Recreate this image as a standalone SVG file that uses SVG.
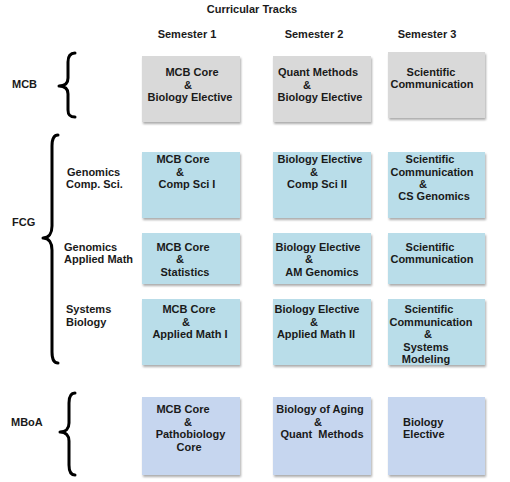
<svg xmlns="http://www.w3.org/2000/svg" width="510" height="482" viewBox="0 0 510 482">
<defs>
<filter id="blur" x="-10%" y="-10%" width="120%" height="120%"><feGaussianBlur stdDeviation="0.8"/></filter>
</defs>
<style>
text{font-family:"Liberation Sans",Arial,sans-serif;font-weight:bold;font-size:11px;fill:#1a1a1a;text-anchor:middle}
.l{text-anchor:start}
.g{fill:#d9d9d9}
.b{fill:#b9dde9}
.p{fill:#c6d6ef}
.sh{fill:#8a8a8a;opacity:0.7;filter:url(#blur)}
.br{fill:none;stroke:#000;stroke-width:3;stroke-linecap:round;stroke-linejoin:round}
</style>
<rect width="510" height="482" fill="#fff"/>
<text x="252" y="13">Curricular Tracks</text>
<text x="187" y="38">Semester 1</text>
<text x="314" y="38">Semester 2</text>
<text x="427" y="38">Semester 3</text>

<g id="labels">
<text class="l" x="12" y="88">MCB</text>
<text class="l" x="12" y="226">FCG</text>
<text class="l" x="11" y="426">MBoA</text>
<text class="l" x="67" y="176">Genomics</text>
<text class="l" x="66" y="188">Comp. Sci.</text>
<text class="l" x="64" y="251">Genomics</text>
<text class="l" x="64" y="263">Applied Math</text>
<text class="l" x="66" y="313">Systems</text>
<text class="l" x="66" y="326">Biology</text>
</g>

<g id="braces">
<path class="br" d="M75,53 C70,53 68,56 68,62 L68,78 C68,83 65,86 59,86 C65,86 68,89 68,94 L68,110 C68,115 70,117 75,117"/>
<path class="br" d="M58,135 C54,135 52,139 52,146 L52,226 C52,233 49,238 43,238 C49,238 52,243 52,250 L52,352 C52,359 54,363 58,363"/>
<path class="br" d="M75,393 C71,393 69,397 69,403 L69,423 C69,428 66,432 60,432 C66,432 69,436 69,441 L69,465 C69,471 71,475 75,475"/>
</g>

<g id="mcb-s1"><rect class="sh" x="143" y="58" width="98" height="66"/><rect class="g" x="142" y="56" width="98" height="66"/>
<text x="192" y="76">MCB Core</text><text x="188" y="88.5">&amp;</text><text x="190" y="101">Biology Elective</text></g>
<g id="mcb-s2"><rect class="sh" x="274" y="58" width="98" height="66"/><rect class="g" x="273" y="56" width="98" height="66"/>
<text x="318" y="76">Quant Methods</text><text x="307" y="88.5">&amp;</text><text x="320" y="101">Biology Elective</text></g>
<g id="mcb-s3"><rect class="sh" x="389" y="54" width="97" height="66"/><rect class="g" x="388" y="52" width="97" height="66"/>
<text x="431" y="75.5">Scientific</text><text x="432" y="88">Communication</text></g>

<g id="gcs-s1"><rect class="sh" x="143" y="154" width="98" height="66"/><rect class="b" x="142" y="152" width="98" height="66"/>
<text x="183" y="163">MCB Core</text><text x="180" y="175.5">&amp;</text><text x="187" y="188">Comp Sci I</text></g>
<g id="gcs-s2"><rect class="sh" x="274" y="154" width="98" height="66"/><rect class="b" x="273" y="152" width="98" height="66"/>
<text x="320" y="163">Biology Elective</text><text x="314" y="175.5">&amp;</text><text x="317" y="188">Comp Sci II</text></g>
<g id="gcs-s3"><rect class="sh" x="389" y="154" width="97" height="66"/><rect class="b" x="388" y="152" width="97" height="66"/>
<text x="430" y="163">Scientific</text><text x="432" y="175.5">Communication</text><text x="423" y="188">&amp;</text><text x="434" y="200">CS Genomics</text></g>

<g id="gam-s1"><rect class="sh" x="143" y="235" width="98" height="51"/><rect class="b" x="142" y="233" width="98" height="51"/>
<text x="183" y="250.5">MCB Core</text><text x="180" y="263">&amp;</text><text x="185" y="275.5">Statistics</text></g>
<g id="gam-s2"><rect class="sh" x="274" y="235" width="98" height="51"/><rect class="b" x="273" y="233" width="98" height="51"/>
<text x="318" y="250.5">Biology Elective</text><text x="309" y="263">&amp;</text><text x="322" y="275.5">AM Genomics</text></g>
<g id="gam-s3"><rect class="sh" x="389" y="235" width="97" height="51"/><rect class="b" x="388" y="233" width="97" height="51"/>
<text x="430" y="250.5">Scientific</text><text x="432" y="263">Communication</text></g>

<g id="sb-s1"><rect class="sh" x="143" y="301" width="98" height="66"/><rect class="b" x="142" y="299" width="98" height="66"/>
<text x="189" y="313">MCB Core</text><text x="186" y="326">&amp;</text><text x="190" y="338">Applied Math I</text></g>
<g id="sb-s2"><rect class="sh" x="274" y="301" width="98" height="66"/><rect class="b" x="273" y="299" width="98" height="66"/>
<text x="317" y="313">Biology Elective</text><text x="314" y="326">&amp;</text><text x="316" y="338">Applied Math II</text></g>
<g id="sb-s3"><rect class="sh" x="389" y="301" width="97" height="66"/><rect class="b" x="388" y="299" width="97" height="66"/>
<text x="429" y="313">Scientific</text><text x="431" y="326">Communication</text><text x="428" y="338">&amp;</text><text x="426" y="350.5">Systems</text><text x="426" y="363">Modeling</text></g>

<g id="mboa-s1"><rect class="sh" x="143" y="399" width="98" height="78"/><rect class="p" x="142" y="397" width="98" height="78"/>
<text x="183" y="413">MCB Core</text><text x="188" y="425.5">&amp;</text><text x="190.5" y="438">Pathobiology</text><text x="189" y="450.5">Core</text></g>
<g id="mboa-s2"><rect class="sh" x="274" y="399" width="98" height="78"/><rect class="p" x="273" y="397" width="98" height="78"/>
<text x="320" y="413">Biology of Aging</text><text x="318" y="425.5">&amp;</text><text x="322" y="438" xml:space="preserve">Quant  Methods</text></g>
<g id="mboa-s3"><rect class="sh" x="389" y="399" width="97" height="78"/><rect class="p" x="388" y="397" width="97" height="78"/>
<text class="l" x="403" y="425.5">Biology</text><text class="l" x="403" y="438">Elective</text></g>
</svg>
